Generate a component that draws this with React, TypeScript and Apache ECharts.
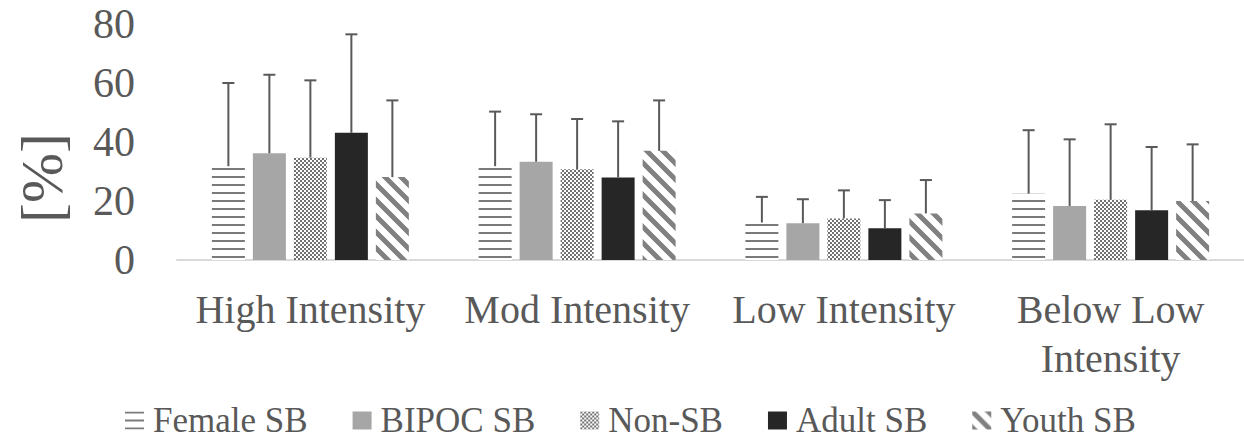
import React, { useEffect, useRef } from "react";
import * as echarts from "echarts";

const categories = ["High Intensity", "Mod Intensity", "Low Intensity", "Below Low\nIntensity"];
const seriesNames = ["Female SB", "BIPOC SB", "Non-SB", "Adult SB", "Youth SB"];
const femaleMean = [31.8, 31.8, 12.7, 22.5];
const femaleSd = [28.2, 18.5, 8.7, 21.5];
const bipocMean = [36.2, 33.3, 12.5, 18.3];
const bipocSd = [26.6, 16.1, 8.1, 22.6];
const nonSbMean = [34.7, 30.8, 14.1, 20.4];
const nonSbSd = [26.2, 17.0, 9.5, 25.6];
const adultMean = [43.1, 28.0, 10.8, 16.9];
const adultSd = [33.4, 19.0, 9.5, 21.4];
const youthMean = [28.1, 37.0, 15.8, 20.0];
const youthSd = [26.0, 17.1, 11.3, 19.2];
const yTicks = [0, 20, 40, 60, 80];

const means = [femaleMean, bipocMean, nonSbMean, adultMean, youthMean];
const sds = [femaleSd, bipocSd, nonSbSd, adultSd, youthSd];

const FONT = "Liberation Serif";
const TEXT = "#595959";
const BAR_W = 33;
const BAR_GAP = 8;

function makeCanvas(w: number, h: number, draw: (ctx: CanvasRenderingContext2D) => void) {
  const c = document.createElement("canvas");
  c.width = w;
  c.height = h;
  const ctx = c.getContext("2d")!;
  ctx.fillStyle = "#ffffff";
  ctx.fillRect(0, 0, w, h);
  draw(ctx);
  return c;
}

export default function App() {
  const ref = useRef<HTMLDivElement>(null);
  useEffect(() => {
    document.body.style.margin = "0";
    if (!ref.current) return;
    const chart = echarts.init(ref.current, undefined, { renderer: "svg" });

    const hStripes = makeCanvas(8, 8, (ctx) => {
      ctx.fillStyle = "#7a7a7a";
      ctx.fillRect(0, 0, 8, 2);
    });
    const checker = makeCanvas(4, 4, (ctx) => {
      ctx.fillStyle = "#707070";
      ctx.fillRect(0, 0, 2, 2);
      ctx.fillRect(2, 2, 2, 2);
    });
    const diag = makeCanvas(16, 16, (ctx) => {
      ctx.strokeStyle = "#808080";
      ctx.lineWidth = 5;
      ctx.beginPath();
      ctx.moveTo(-4, -4);
      ctx.lineTo(20, 20);
      ctx.moveTo(-4, 12);
      ctx.lineTo(4, 20);
      ctx.moveTo(12, -4);
      ctx.lineTo(20, 4);
      ctx.stroke();
    });

    const fills: any[] = [
      { image: hStripes, repeat: "repeat" },
      "#a6a6a6",
      { image: checker, repeat: "repeat" },
      "#262626",
      { image: diag, repeat: "repeat" },
    ];

    const barSeries = seriesNames.map((name, i) => ({
      name,
      type: "bar",
      data: means[i],
      barWidth: BAR_W,
      barGap: (BAR_GAP / BAR_W) * 100 + "%",
      itemStyle: { color: fills[i] },
      z: 2,
    }));

    const errData: any[] = [];
    for (let s = 0; s < 5; s++) {
      for (let c = 0; c < categories.length; c++) {
        errData.push([c, means[s][c], means[s][c] + sds[s][c], s]);
      }
    }

    const errSeries = {
      type: "custom",
      name: "err",
      data: errData,
      z: 3,
      silent: true,
      encode: { x: 0, y: [1, 2] },
      renderItem: (params: any, api: any) => {
        const c = api.value(0);
        const s = api.value(3);
        const offset = (s - 2) * (BAR_W + BAR_GAP);
        const base = api.coord([c, api.value(1)]);
        const top = api.coord([c, api.value(2)]);
        const x = base[0] + offset;
        const style = { stroke: "#595959", lineWidth: 2 };
        return {
          type: "group",
          children: [
            { type: "line", shape: { x1: x, y1: base[1], x2: x, y2: top[1] }, style },
            { type: "line", shape: { x1: x - 6, y1: top[1], x2: x + 6, y2: top[1] }, style },
          ],
        };
      },
    };

    chart.setOption({
      animation: false,
      textStyle: { fontFamily: FONT, color: TEXT },
      grid: { left: 177, width: 1071, top: 24, bottom: 179, containLabel: false },
      legend: {
        data: seriesNames,
        top: 398,
        left: 120,
        icon: "rect",
        itemWidth: 19,
        itemHeight: 18,
        itemGap: 45,
        textStyle: { fontFamily: FONT, fontSize: 35, color: TEXT, padding: [0, 0, 0, 4] },
      },
      xAxis: {
        type: "category",
        data: categories,
        axisLine: { lineStyle: { color: "#d9d9d9", width: 2 } },
        axisTick: { show: false },
        axisLabel: { fontFamily: FONT, fontSize: 40, color: TEXT, margin: 25, lineHeight: 49, interval: 0 },
      },
      yAxis: {
        type: "value",
        min: yTicks[0],
        max: yTicks[yTicks.length - 1],
        interval: 20,
        splitLine: { show: false },
        axisLine: { show: false },
        axisTick: { show: false },
        axisLabel: { fontFamily: FONT, fontSize: 42, color: TEXT, margin: 42 },
      },
      graphic: [
        {
          type: "text",
          x: 42,
          y: 178,
          rotation: Math.PI / 2,
          style: {
            text: "[%]",
            fontFamily: FONT,
            fontSize: 60,
            fill: TEXT,
            align: "center",
            verticalAlign: "middle",
          },
        },
      ],
      series: [...barSeries, errSeries],
    });
    return () => chart.dispose();
  }, []);
  return <div ref={ref} style={{ width: 1244, height: 439 }} />;
}
